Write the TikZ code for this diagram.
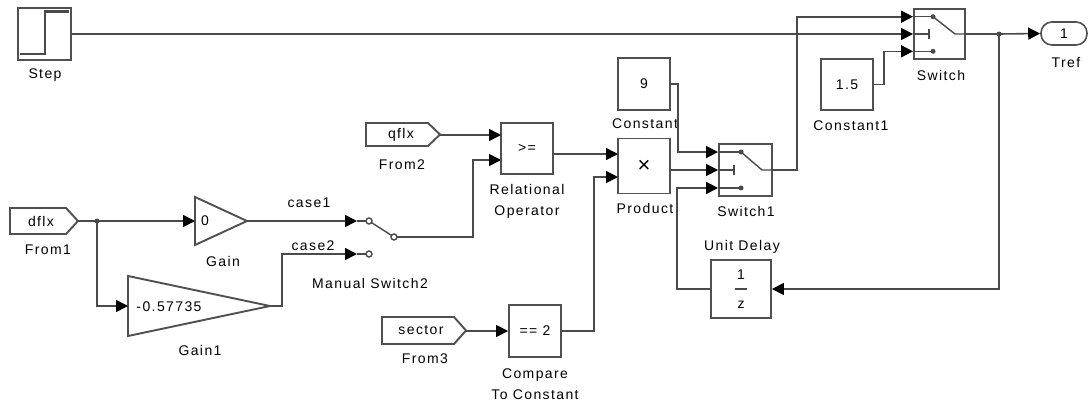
\documentclass[tikz,border=0pt]{standalone}
\usepackage{fontspec}
\setmainfont{Liberation Sans}[LetterSpace=10]
\usetikzlibrary{arrows.meta,calc}
\definecolor{wirec}{HTML}{4A4A4A}
\definecolor{blkc}{HTML}{505050}
\tikzset{
  wire/.style={draw=wirec,line width=1.6pt},
  arr/.style={wire,-{Triangle[length=12pt,width=12pt,color=black]}},
  blk/.style={draw=blkc,line width=1.9pt,fill=white,inner sep=0pt},
  lbl/.style={inner sep=0pt,align=center},
  icon/.style={draw=wirec,line width=1.4pt},
  dotf/.style={fill=wirec},
  every node/.style={font=\fontsize{14}{21}\selectfont}
}
\begin{document}
\begin{tikzpicture}[x=1pt,y=-1pt]
\useasboundingbox[fill=white] (0,0) rectangle (1088,405);

% ---------- Step ----------
\node[blk,minimum width=53pt,minimum height=52pt] (step) at (44.5,34) {};
\draw[icon] (20,54) -- (45,54) -- (45,11) -- (69,11);
\draw[draw=wirec,line width=3pt] (45,11.5) -- (69,11.5);
\node[lbl] (steplbl) at (45,75) {Step};

% ---------- Switch ----------
\node[blk,minimum width=51pt,minimum height=50pt] (sw) at (939.5,34) {};
\coordinate (swa) at ($(sw.north west)!1/6!(sw.south west)$);
\coordinate (swc) at ($(sw.north west)!5/6!(sw.south west)$);
\draw[icon] (swa) -- ++(20,0) coordinate (swad);
\fill[dotf] (swad) circle (2.5);
\draw[icon] (swad) -- (955,34) -- (sw.east);
\draw[icon] (sw.west) -- ++(16,0) coordinate (swbd);
\draw[draw=wirec,line width=2.2pt] ($(swbd)+(0,-5)$) -- ($(swbd)+(0,5)$);
\draw[icon] (swc) -- ++(20,0) coordinate (swcd);
\fill[dotf] (swcd) circle (2.5);
\node[lbl] (swlbl) at (941,75) {Switch};

% ---------- Tref ----------
\node[draw=blkc,line width=1.6pt,rounded corners=11pt,minimum width=46pt,minimum height=23pt,inner sep=0pt] (tref) at (1064,33.5) {1};
\node[lbl] (treflbl) at (1066,62) {Tref};

% ---------- Constant1 ----------
\node[blk,minimum width=52pt,minimum height=51pt] (c15) at (847,84.5) {1.5};
\node[lbl] (c15lbl) at (851,126) {Constant1};

% ---------- Constant 9 ----------
\node[blk,minimum width=52pt,minimum height=52pt] (c9) at (644,84) {9};
\node[lbl] (c9lbl) at (645,124) {Constant};

% ---------- Product ----------
\node[blk,minimum width=52pt,minimum height=55pt] (prod) at (644,166) {{\fontsize{22}{22}\selectfont ×}};
\coordinate (pa) at (618,154);
\coordinate (pb) at (618,177);
\node[lbl] (prodlbl) at (645,208) {Product};

% ---------- Switch1 ----------
\node[blk,minimum width=53pt,minimum height=52pt] (s1) at (745.5,170) {};
\coordinate (s1a) at ($(s1.north west)!1/6!(s1.south west)$);
\coordinate (s1c) at ($(s1.north west)!5/6!(s1.south west)$);
\draw[icon] (s1a) -- ++(23,0) coordinate (s1ad);
\fill[dotf] (s1ad) circle (2.5);
\draw[icon] (s1ad) -- (762,170) -- (s1.east);
\draw[icon] (s1.west) -- ++(16,0) coordinate (s1bd);
\draw[draw=wirec,line width=2.2pt] ($(s1bd)+(0,-5)$) -- ($(s1bd)+(0,5)$);
\draw[icon] (s1c) -- ++(23,0) coordinate (s1cd);
\fill[dotf] (s1cd) circle (2.5);
\node[lbl] (s1lbl) at (746,211) {Switch1};

% ---------- Unit Delay ----------
\node[blk,minimum width=60pt,minimum height=58pt] (ud) at (741,289) {};
\node[inner sep=0pt] (udn) at (741,275) {1};
\node[inner sep=0pt] (udd) at (741,305) {z};
\draw[icon] (735,289) -- (747,289);
\node[lbl] (udlbl) at (742,247) {Unit Delay};

% ---------- Relational Operator ----------
\node[blk,minimum width=52pt,minimum height=51pt] (rel) at (527,148.5) {>=};
\coordinate (ra) at (501,135);
\coordinate (rb) at (501,160);
\node[lbl] (rellbl) at (527,201) {Relational\\Operator};

% ---------- From2 ----------
\draw[blk] (366,123) -- (428,123) -- (440,134.5) -- (428,146) -- (366,146) -- cycle;
\coordinate (f2o) at (440,135);
\node[inner sep=0pt] (f2t) at (401,134.5) {qflx};
\node[lbl] (f2lbl) at (402,165) {From2};

% ---------- From1 ----------
\draw[blk] (10,208) -- (66,208) -- (78,221) -- (66,234) -- (10,234) -- cycle;
\coordinate (f1o) at (78,221);
\node[inner sep=0pt] (f1t) at (41,221) {dflx};
\node[lbl] (f1lbl) at (48,250) {From1};

% ---------- Gain ----------
\draw[blk] (195,197) -- (247,221) -- (195,245) -- cycle;
\coordinate (gi) at (195,221);
\coordinate (go) at (247,221);
\node[inner sep=0pt] (gt) at (205,221) {0};
\node[lbl] (glbl) at (223,261) {Gain};

% ---------- Gain1 ----------
\draw[blk] (128,276) -- (270,306) -- (128,336) -- cycle;
\coordinate (g1i) at (128,306);
\coordinate (g1o) at (270,306);
\node[inner sep=0pt] (g1t) at (169,307) {-0.57735};
\node[lbl] (g1lbl) at (200,350) {Gain1};

% ---------- Manual Switch2 ----------
\coordinate (msa) at (357,221);
\coordinate (msb) at (357,254);
\coordinate (mc1) at (369,221);
\coordinate (mc2) at (369,254);
\coordinate (mco) at (394,237);
\draw[icon] (msa) -- (mc1);
\draw[icon] (msb) -- (mc2);
\draw[icon] (mc1) -- (mco);
\draw[icon,fill=white] (mc1) circle (3);
\draw[icon,fill=white] (mc2) circle (3);
\draw[icon,fill=white] (mco) circle (3);
\node[lbl] (mslbl) at (370,283) {Manual Switch2};
\node[lbl] (case1) at (309,203) {case1};
\node[lbl] (case2) at (313,246) {case2};

% ---------- From3 ----------
\draw[blk] (382,317) -- (454,317) -- (466,330.5) -- (454,344) -- (382,344) -- cycle;
\coordinate (f3o) at (466,331);
\node[inner sep=0pt] (f3t) at (421,330.5) {sector};
\node[lbl] (f3lbl) at (425,359) {From3};

% ---------- Compare To Constant ----------
\node[blk,minimum width=52pt,minimum height=52pt] (cmp) at (535,331) {== 2};
\node[lbl] (cmplbl) at (535,384) {Compare\\To Constant};

% ---------- Connectors ----------
\draw[arr] (step.east) -- (sw.west);
\coordinate (j2) at (999,34);
\draw[wire] (sw.east) -- (j2);
\draw[arr] (j2) -- (tref.west);
\draw[arr] (j2) |- (ud.east);
\fill[wirec] (j2) circle (2.5);
\draw[arr] (c15.east) -- ++(10,0) |- (swc);
\draw[arr] (s1.east) -- ++(24,0) |- (swa);
\draw[arr] (c9.east) -- ++(7,0) |- (s1a);
\draw[arr] (prod.east |- s1.west) -- (s1.west);
\draw[arr] (ud.west) -- ++(-33,0) |- (s1c);
\draw[arr] (rel.east |- pa) -- (pa);
\draw[arr] (cmp.east) -- ++(32,0) |- (pb);
\draw[arr] (f2o) -- (ra);
\draw[arr] (mco) ++(3,0) -- ++(76,0) |- (rb);
\draw[arr] (f3o) -- (cmp.west);
\coordinate (j1) at (97,221);
\draw[wire] (f1o) -- (j1);
\draw[arr] (j1) -- (gi);
\draw[arr] (j1) |- (g1i);
\fill[wirec] (j1) circle (2.5);
\draw[arr] (go) -- (msa);
\draw[arr] (g1o) -- ++(12,0) |- (msb);
\end{tikzpicture}
\end{document}
